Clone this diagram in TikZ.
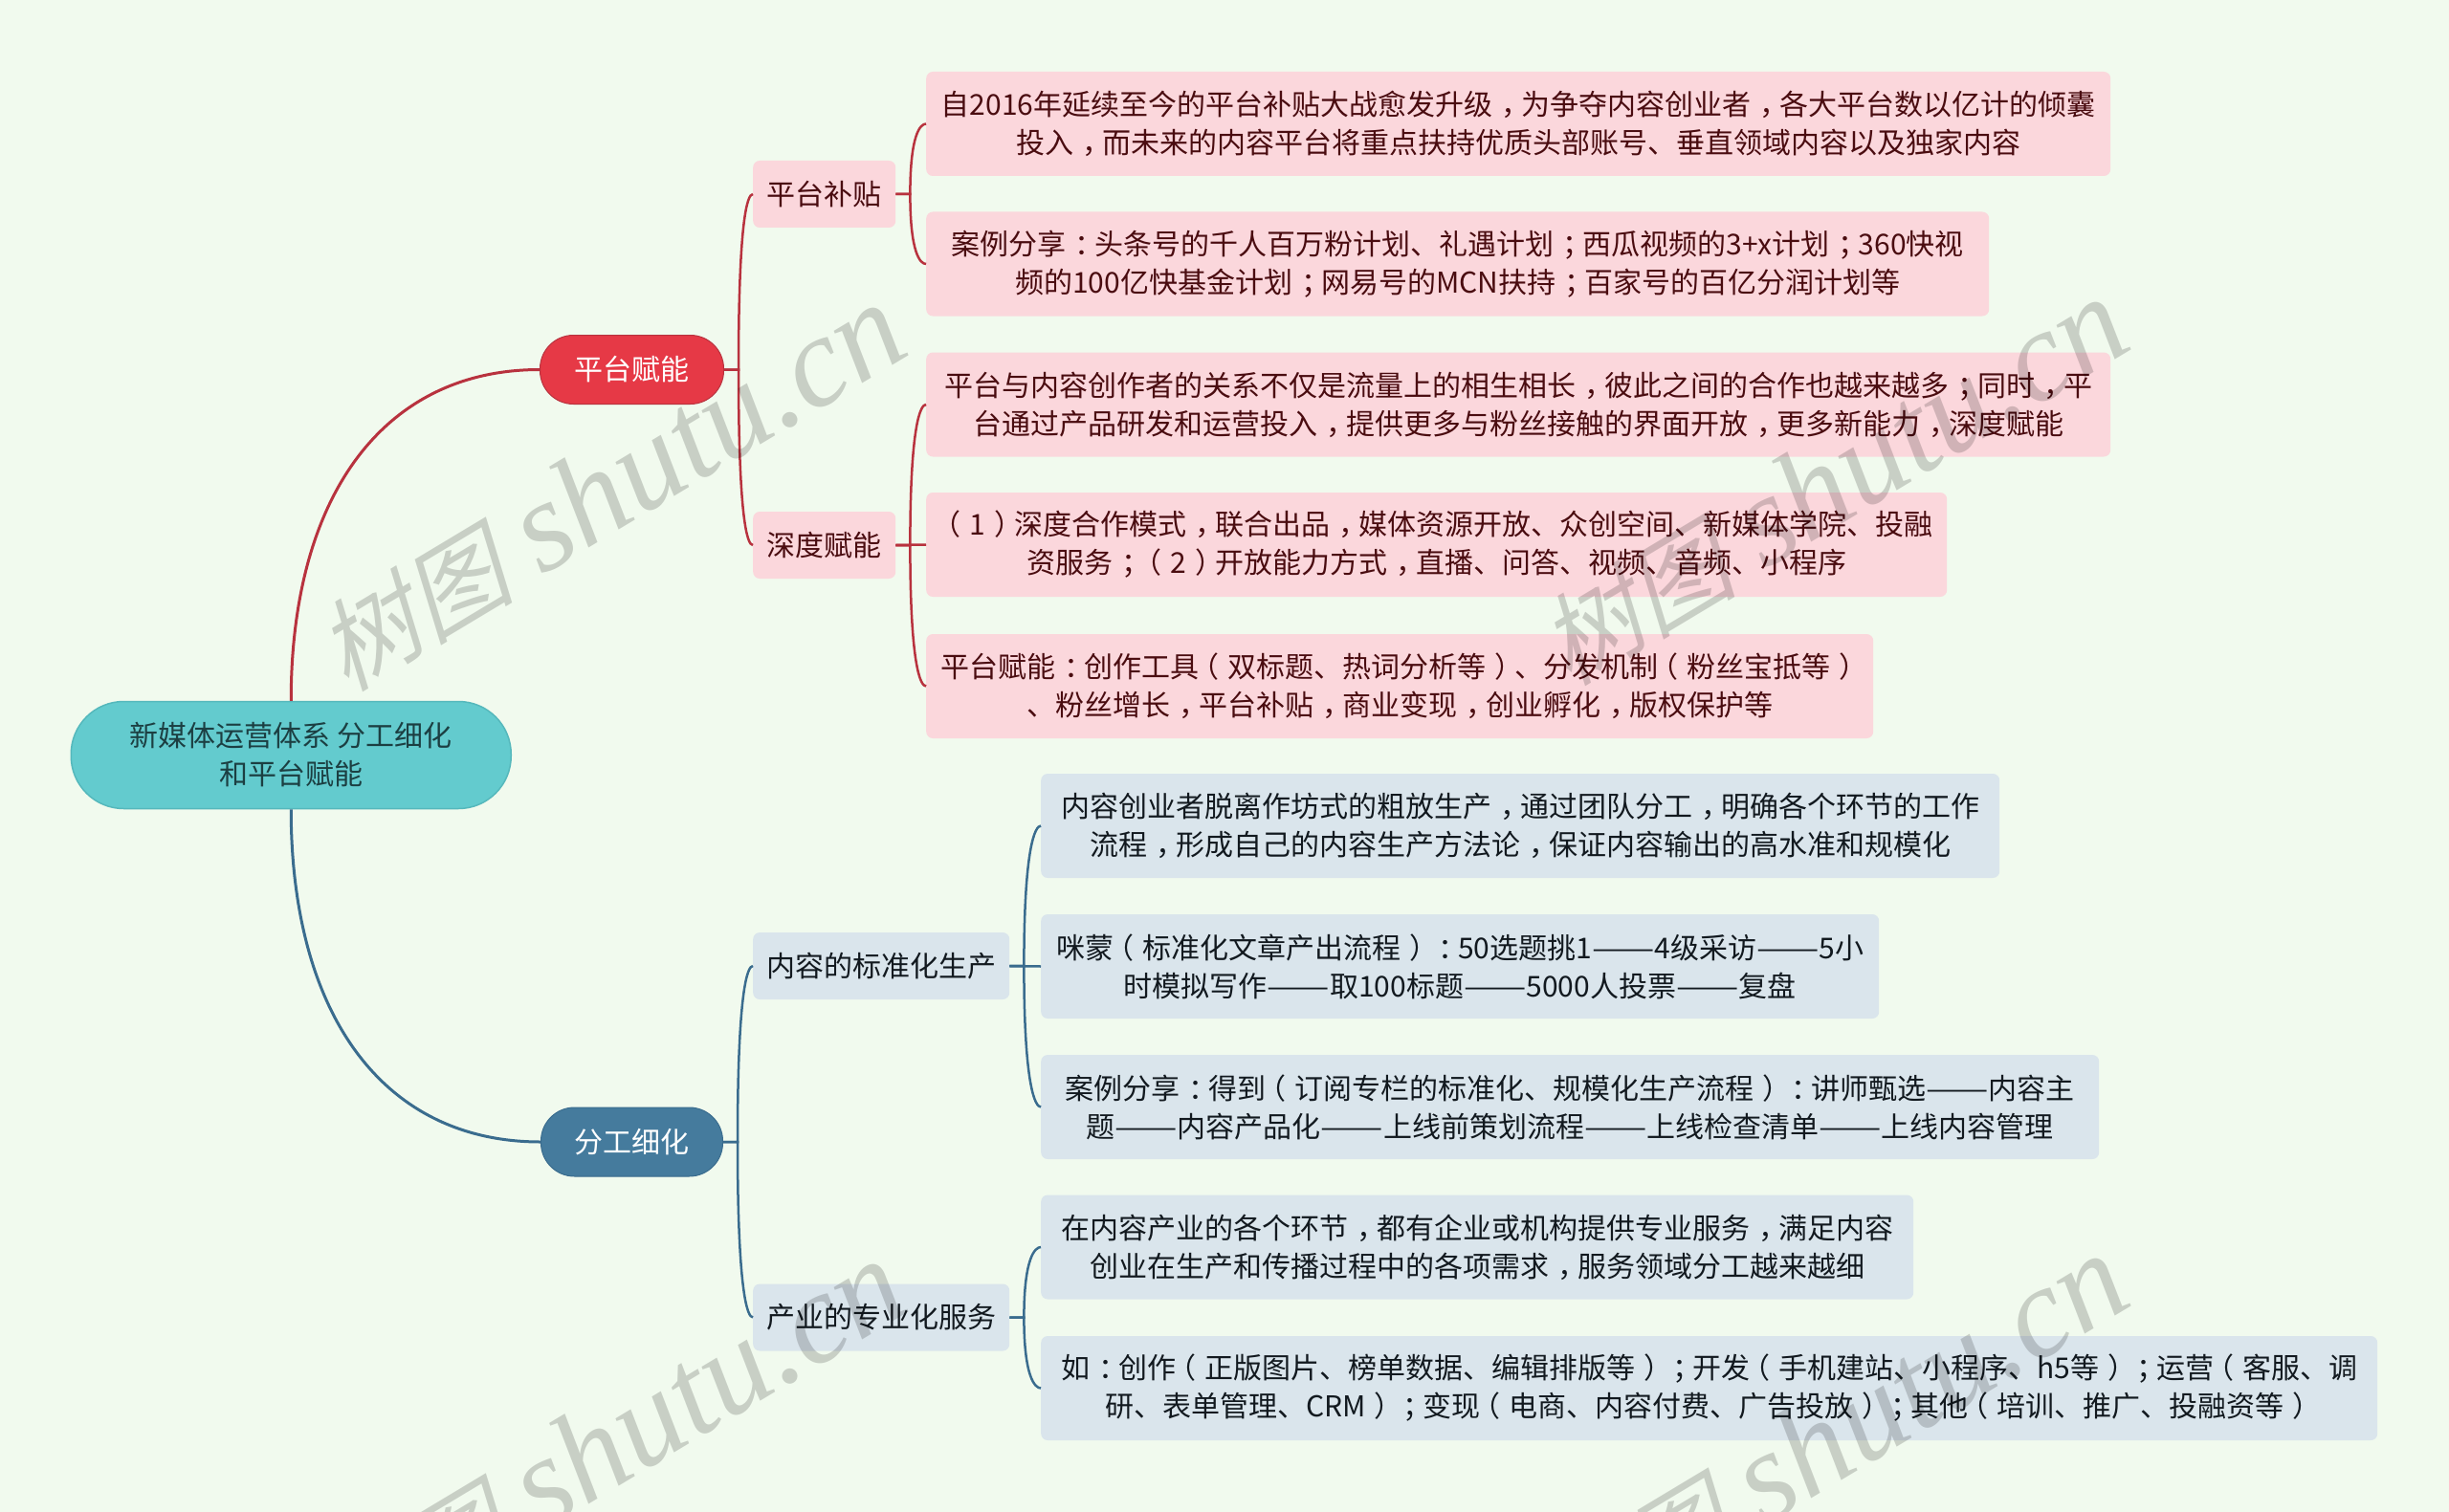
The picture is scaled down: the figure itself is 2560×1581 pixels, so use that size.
\documentclass[tikz,border=0pt]{standalone}
\usepackage{fontspec}
\usepackage{xcolor}
\usetikzlibrary{calc}
\setmainfont{Noto Sans CJK SC}
\newfontfamily\markserif{Liberation Serif}
\newfontfamily\markcjk[FakeSlant=0.25]{Noto Sans CJK SC}
\newcommand{\longdash}{\scalebox{1.30}[1]{——}}
\newXeTeXintercharclass\puncright
\newXeTeXintercharclass\puncleft
\XeTeXcharclass`，=\puncright
\XeTeXcharclass`；=\puncright
\XeTeXcharclass`：=\puncright
\XeTeXcharclass`）=\puncright
\XeTeXcharclass`（=\puncleft
\XeTeXinterchartoks 0 \puncright={\kern.3em}
\XeTeXinterchartoks \puncright 0 ={\kern-.3em}
\XeTeXinterchartoks 0 \puncleft={\kern-.3em}
\XeTeXinterchartoks \puncleft 0 ={\kern.3em}
\XeTeXinterchartoks \puncright \puncleft={\kern-.6em}
\XeTeXinterchartokenstate=1
\definecolor{pagebg}{HTML}{F1FAEE}
\definecolor{rootfill}{HTML}{63CBCE}
\definecolor{rootline}{HTML}{55B8BC}
\definecolor{rootink}{HTML}{1C3F42}
\definecolor{redmain}{HTML}{E63946}
\definecolor{redline}{HTML}{B8323E}
\definecolor{redpale}{HTML}{FBD7DC}
\definecolor{redink}{HTML}{4A0C10}
\definecolor{bluemain}{HTML}{457B9D}
\definecolor{blueline}{HTML}{3A6C8E}
\definecolor{bluepale}{HTML}{DAE5EC}
\definecolor{blueink}{HTML}{12191F}
\tikzset{
  x=1pt,y=-1pt,
  every node/.style={font=\fontsize{30}{40}\selectfont,align=center,inner sep=0pt,anchor=west},
  rootnode/.style={fill=rootfill,draw=rootline,line width=1.5pt,rounded corners=55pt,text=rootink},
  redmainnode/.style={fill=redmain,draw=redline,line width=1pt,rounded corners=35pt,text=white},
  bluemainnode/.style={fill=bluemain,draw=blueline,line width=1pt,rounded corners=35pt,text=white},
  redbox/.style={fill=redpale,rounded corners=7pt,text=redink,minimum height=#1},
  redbox/.default=109pt,
  bluebox/.style={fill=bluepale,rounded corners=7pt,text=blueink,minimum height=#1},
  bluebox/.default=109pt,
  toplink/.style={line width=3pt},
  sublink/.style={line width=2.5pt},
  brlink/.style={to path={-- ++(15,0) coordinate (j) .. controls ($(j)!0.85!(j|-\tikztotarget)$) and ($(\tikztotarget)+(-6,0)$) .. (\tikztotarget)}},
  wmark/.style={rotate=31,anchor=center,text=black,opacity=0.17,font=\fontsize{135}{135}\selectfont}
}
\begin{document}
\begin{tikzpicture}
  \fill[pagebg] (0,0) rectangle (2560,1581);
  \useasboundingbox (0,0) rectangle (2560,1581);
  \clip (0,0) rectangle (2560,1581);

  \node[rootnode,minimum width=460pt,minimum height=112pt] (root) at (73.5,789.5) {新媒体运营体系 分工细化\\和平台赋能};
  \node[redmainnode,minimum width=192pt,minimum height=72pt] (pingtai) at (564,386.5) {平台赋能};
  \node[bluemainnode,minimum width=190pt,minimum height=72pt] (fengong) at (565,1194) {分工细化};

  \node[redbox=70pt,minimum width=149pt] (butie) at (787,203) {平台补贴};
  \node[redbox=70pt,minimum width=149pt] (shendu) at (787,570) {深度赋能};
  \node[bluebox=70pt,minimum width=268pt] (biaozhun) at (787,1010) {内容的标准化生产};
  \node[bluebox=70pt,minimum width=268pt] (zhuanye) at (787,1377.5) {产业的专业化服务};

  \node[redbox,minimum width=1238pt] (red1) at (968,129.5) {自2016年延续至今的平台补贴大战愈发升级，为争夺内容创业者，各大平台数以亿计的倾囊\\投入，而未来的内容平台将重点扶持优质头部账号、垂直领域内容以及独家内容};
  \node[redbox,minimum width=1111pt] (red2) at (968,276) {案例分享：头条号的千人百万粉计划、礼遇计划；西瓜视频的3+x计划；360快视\\频的100亿快基金计划；网易号的MCN扶持；百家号的百亿分润计划等};
  \node[redbox,minimum width=1238pt] (red3) at (968,423) {平台与内容创作者的关系不仅是流量上的相生相长，彼此之间的合作也越来越多；同时，平\\台通过产品研发和运营投入，提供更多与粉丝接触的界面开放，更多新能力，深度赋能};
  \node[redbox,minimum width=1067pt] (red4) at (968,569.5) {\kern-.3em（1）深度合作模式，联合出品，媒体资源开放、众创空间、新媒体学院、投融\\资服务；（2）开放能力方式，直播、问答、视频、音频、小程序};
  \node[redbox,minimum width=990pt] (red5) at (968,717.5) {平台赋能：创作工具（双标题、热词分析等）、分发机制（粉丝宝抵等）\kern-.3em\\、粉丝增长，平台补贴，商业变现，创业孵化，版权保护等};

  \node[bluebox,minimum width=1002pt] (blue1) at (1088,863.5) {内容创业者脱离作坊式的粗放生产，通过团队分工，明确各个环节的工作\\流程，形成自己的内容生产方法论，保证内容输出的高水准和规模化};
  \node[bluebox,minimum width=876pt] (blue2) at (1088,1010.5) {咪蒙（标准化文章产出流程）：50选题挑1\longdash 4级采访\longdash 5小\\时模拟写作\longdash 取100标题\longdash 5000人投票\longdash 复盘};
  \node[bluebox,minimum width=1106pt] (blue3) at (1088,1157.5) {案例分享：得到（订阅专栏的标准化、规模化生产流程）：讲师甄选\longdash 内容主\\题\longdash 内容产品化\longdash 上线前策划流程\longdash 上线检查清单\longdash 上线内容管理};
  \node[bluebox,minimum width=912pt] (blue4) at (1088,1304) {在内容产业的各个环节，都有企业或机构提供专业服务，满足内容\\创业在生产和传播过程中的各项需求，服务领域分工越来越细};
  \node[bluebox,minimum width=1397pt] (blue5) at (1088,1451.5) {如：创作（正版图片、榜单数据、编辑排版等）；开发（手机建站、小程序、h5等）；运营（客服、调\\研、表单管理、CRM）；变现（电商、内容付费、广告投放）；其他（培训、推广、投融资等）\kern-.3em};

  \draw[redline,toplink] (root.north) .. controls +(0,-213) and +(-164,0) .. (pingtai.west);
  \draw[blueline,toplink] (root.south) .. controls +(0,214) and +(-165,0) .. (fengong.west);

  \draw[redline,sublink,brlink] (pingtai.east) to (butie.west);
  \draw[redline,sublink,brlink] (pingtai.east) to (shendu.west);
  \draw[redline,sublink,brlink] (butie.east) to (red1.west);
  \draw[redline,sublink,brlink] (butie.east) to (red2.west);
  \draw[redline,sublink,brlink] (shendu.east) to (red3.west);
  \draw[redline,sublink] (shendu.east) -- (red4.west);
  \draw[redline,sublink,brlink] (shendu.east) to (red5.west);

  \draw[blueline,sublink,brlink] (fengong.east) to (biaozhun.west);
  \draw[blueline,sublink,brlink] (fengong.east) to (zhuanye.west);
  \draw[blueline,sublink,brlink] (biaozhun.east) to (blue1.west);
  \draw[blueline,sublink] (biaozhun.east) -- (blue2.west);
  \draw[blueline,sublink,brlink] (biaozhun.east) to (blue3.west);
  \draw[blueline,sublink,brlink] (zhuanye.east) to (blue4.west);
  \draw[blueline,sublink,brlink] (zhuanye.east) to (blue5.west);

  \foreach \mx/\my [count=\i] in {637/510,1915/504,637/1510,1915/1504}
    \node[wmark] (mark\i) at (\mx,\my) {{\fontsize{104}{104}\selectfont\markcjk 树图} {\markserif\itshape shutu.cn}};
\end{tikzpicture}
\end{document}
